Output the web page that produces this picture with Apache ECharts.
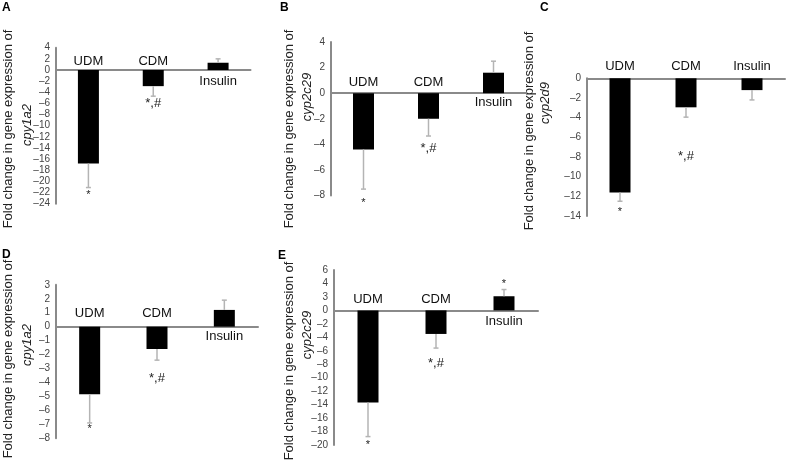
<!DOCTYPE html>
<html><head><meta charset="utf-8">
<script src="https://cdn.jsdelivr.net/npm/echarts@6/dist/echarts.min.js"></script>
<style>html,body{margin:0;padding:0;background:#fff}#c{width:791px;height:468px}</style>
</head><body><div id="c"></div>
<script>
// ---------- data ----------
const categories = ['UDM', 'CDM', 'Insulin'];

const A_mean = [-16.8, -2.9, 1.3];
const A_err  = [4.3, 1.8, 0.7];
const A_sig  = ['*', '*,#', ''];

const B_mean = [-4.4, -2.0, 1.6];
const B_err  = [3.1, 1.35, 0.9];
const B_sig  = ['*', '*,#', ''];

const C_mean = [-11.6, -2.95, -1.2];
const C_err  = [0.9, 1.0, 1.0];
const C_sig  = ['*', '*,#', ''];

const D_mean = [-4.85, -1.6, 1.2];
const D_err  = [2.05, 0.8, 0.7];
const D_sig  = ['*', '*,#', ''];

const E_mean = [-13.7, -3.5, 2.1];
const E_err  = [5.05, 2.1, 1.0];
const E_sig  = ['*', '*,#', '*'];

// tick labels as printed (panel E prints "3" where 2 would be)
const E_tickLabels = ['–20','–18','–16','–14','–12','–10','–8','–6','–4','–2','0','3','4','6'];

const panelLetters = ['A', 'B', 'C', 'D', 'E'];
const genes = ['cpy1a2', 'cyp2c29', 'cyp2d9', 'cpy1a2', 'cyp2c29'];
const yTitle = 'Fold change in gene expression of';

// ---------- layout / config ----------
const panels = [
  {mean:A_mean, err:A_err, sig:A_sig, min:-24, max:4, interval:2,
   grid:{left:56, top:47.7, width:194.5, height:156},
   up:8.5, down:11, markOff:[5.5, 7, 0],
   letter:[2,2], t1:[8,129], t2:[27,125]},
  {mean:B_mean, err:B_err, sig:B_sig, min:-8, max:4, interval:2,
   grid:{left:331, top:42, width:195, height:153.5},
   up:11, down:9, markOff:[11.5, 11.5, 0],
   letter:[280,2], t1:[289,129], t2:[307,97]},
  {mean:C_mean, err:C_err, sig:C_sig, min:-14, max:0, interval:2,
   grid:{left:587, top:78.3, width:198, height:137.7},
   up:11.6, down:10, markOff:[9, 39, 0],
   letter:[540,2], t1:[529,131], t2:[545,103]},
  {mean:D_mean, err:D_err, sig:D_sig, min:-8, max:3, interval:1,
   grid:{left:56, top:284.8, width:202, height:153.5},
   up:13.4, down:9.3, markOff:[4.5, 18, 0],
   letter:[2,249], t1:[8,359], t2:[27,345]},
  {mean:E_mean, err:E_err, sig:E_sig, min:-20, max:6, interval:2, tickLabels:E_tickLabels,
   grid:{left:334, top:270, width:204, height:175},
   up:10.7, down:11, markOff:[6.5, 15, -7.5],
   letter:[278,250], t1:[289,361], t2:[307,335]}
];

const FONT = '"Liberation Sans", Arial, sans-serif';
const AXIS_COLOR = '#8a8a8a';
const ERR_COLOR = '#b4b4b4';

const grids = [], xAxes = [], yAxes = [], series = [], graphics = [];

panels.forEach((p, k) => {
  grids.push(Object.assign({containLabel:false}, p.grid));
  xAxes.push({
    type:'category', gridIndex:k, data:categories,
    axisLine:{show:true, onZero:true, lineStyle:{color:AXIS_COLOR, width:2}},
    axisTick:{show:false}, axisLabel:{show:false}, splitLine:{show:false}
  });
  yAxes.push({
    type:'value', gridIndex:k, min:p.min, max:p.max, interval:p.interval,
    axisLine:{show:true, onZero:false, lineStyle:{color:AXIS_COLOR, width:2}},
    axisTick:{show:false}, splitLine:{show:false},
    axisLabel:{
      show:true, fontSize:10, color:'#444', fontFamily:FONT, margin:6,
      showMinLabel:true, showMaxLabel:true, hideOverlap:false,
      formatter: (v) => {
        if (p.tickLabels) {
          const idx = Math.round((v - p.min) / p.interval);
          return p.tickLabels[idx];
        }
        return String(v).replace('-', '–');
      }
    }
  });
  series.push({
    type:'bar', xAxisIndex:k, yAxisIndex:k, data:p.mean, barWidth:21,
    itemStyle:{color:'#000'}, silent:true
  });
  // error bars
  series.push({
    type:'custom', xAxisIndex:k, yAxisIndex:k, silent:true, z:3,
    data: p.mean.map((m, i) => [i, m, p.err[i]]),
    renderItem: (params, api) => {
      const i = api.value(0), m = api.value(1), e = api.value(2);
      const end = m + (m < 0 ? -e : e);
      const p0 = api.coord([i, m]);
      const p1 = api.coord([i, end]);
      return {type:'group', children:[
        {type:'line', shape:{x1:p0[0], y1:p0[1], x2:p1[0], y2:p1[1]}, style:{stroke:ERR_COLOR, lineWidth:1.5}},
        {type:'line', shape:{x1:p1[0]-2.5, y1:p1[1], x2:p1[0]+2.5, y2:p1[1]}, style:{stroke:ERR_COLOR, lineWidth:1.5}}
      ]};
    }
  });
  // category labels and significance markers
  series.push({
    type:'custom', xAxisIndex:k, yAxisIndex:k, silent:true, z:4,
    data: p.mean.map((m, i) => [i, m, p.err[i]]),
    renderItem: (params, api) => {
      const i = api.value(0), m = api.value(1), e = api.value(2);
      const end = m + (m < 0 ? -e : e);
      const z = api.coord([i, 0]);
      const pe = api.coord([i, end]);
      const kids = [];
      const ly = m < 0 ? z[1] - p.up : z[1] + p.down;
      kids.push({type:'text', style:{text:categories[i], x:z[0], y:ly, align:'center', verticalAlign:'middle',
        font:'13px ' + FONT, fill:'#111'}});
      const s = p.sig[i];
      if (s) {
        const my = pe[1] + p.markOff[i] + (s === '*' ? 2 : 0.5);
        kids.push({type:'text', style:{text:s, x:z[0], y:my, align:'center', verticalAlign:'middle',
          font:(s === '*' ? '11px ' : '13px ') + FONT, fill:'#222'}});
      }
      return {type:'group', children:kids};
    }
  });
  graphics.push({type:'text', left:p.letter[0], top:p.letter[1],
    style:{text:panelLetters[k], font:'bold 12px ' + FONT, fill:'#000'}});
  graphics.push({type:'text', x:p.t1[0], y:p.t1[1], rotation:Math.PI/2,
    style:{text:yTitle, font:'13px ' + FONT, fill:'#222', align:'center', verticalAlign:'middle'}});
  graphics.push({type:'text', x:p.t2[0], y:p.t2[1], rotation:Math.PI/2,
    style:{text:genes[k], font:'italic 13px ' + FONT, fill:'#222', align:'center', verticalAlign:'middle'}});
});

const chart = echarts.init(document.getElementById('c'), null, {renderer:'canvas'});
chart.setOption({
  animation:false,
  backgroundColor:'#fff',
  grid:grids, xAxis:xAxes, yAxis:yAxes, series:series, graphic:graphics
});
</script>
</body></html>
